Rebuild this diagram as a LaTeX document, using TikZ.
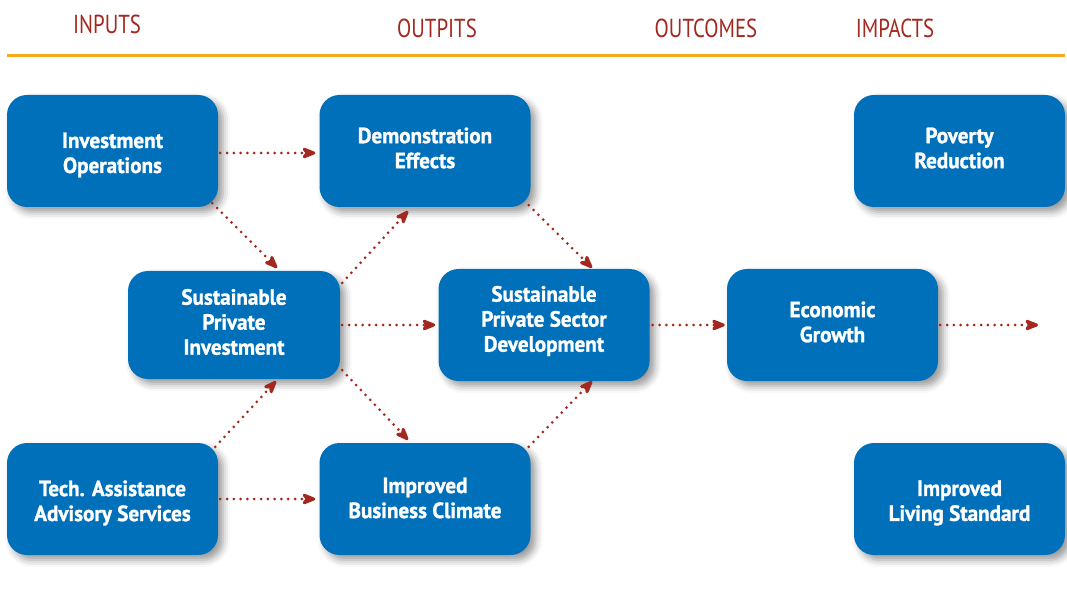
\documentclass[tikz,border=0pt]{standalone}
\usepackage{fontspec}
\setmainfont{PT Sans}
\newfontfamily\boxfont{PT Sans}[FakeStretch=0.96,FakeBold=1.2]
\newfontfamily\headfont{PT Sans}[FakeStretch=0.8]
\usetikzlibrary{arrows.meta,shadows.blur}
\definecolor{boxblue}{HTML}{0070BA}
\definecolor{arrowred}{HTML}{A3281F}
\definecolor{headred}{HTML}{A3281F}
\definecolor{lineorange}{HTML}{F7A81B}
\begin{document}
\begin{tikzpicture}[x=1pt,y=-1pt,
  box/.style={rounded corners=20pt, fill=boxblue, minimum width=211pt, minimum height=112pt,
    inner sep=0pt,
    blur shadow={shadow xshift=5pt, shadow yshift=-5pt, shadow blur radius=7pt, shadow opacity=40}},
  txt/.style={text=white, align=center, inner sep=0pt,
    font=\boxfont\bfseries\fontsize{22}{25}\selectfont},
  head/.style={text=headred, font=\headfont\fontsize{26}{30}\selectfont, inner sep=0pt},
  conn/.style={draw=arrowred, line width=3pt, dash pattern=on 0pt off 6.8pt, line cap=round,
    -{Stealth[length=18pt,width=14pt,inset=5.5pt,round=false]}}
]
\useasboundingbox (0,0) rectangle (1067,593);
\node[head] (hin) at (107,24) {INPUTS};
\node[head] (hout) at (437,28) {OUTPITS};
\node[head] (hoc) at (706,28) {OUTCOMES};
\node[head] (him) at (895,28) {IMPACTS};
\coordinate (la) at (7,56);
\coordinate (lb) at (1065,56);
\draw[lineorange, line width=3pt] (la) -- (lb);

\node[box] (io) at (112.5,151) {};
\node[box] (de) at (425,151) {};
\node[box] (pr) at (959.5,151) {};
\node[box, minimum height=108pt, minimum width=212pt] (spi) at (234,325) {};
\node[box] (spsd) at (544,325) {};
\node[box] (eg) at (832.5,325) {};
\node[box] (ta) at (112.5,499) {};
\node[box] (ibc) at (425,499) {};
\node[box] (ils) at (959.5,499) {};

\node[txt] (iot) at (112.5,155) {Investment\\Operations};
\node[txt] (det) at (425,148) {Demonstration\\Effects};
\node[txt] (prt) at (959.5,148) {Poverty\\Reduction};
\node[txt] (spit) at (234,322) {Sustainable\\Private\\Investment};
\node[txt] (spsdt) at (544,321) {Sustainable\\Private Sector\\Development};
\node[txt] (egt) at (832.5,322) {Economic\\Growth};
\node[txt] (tat) at (112.5,503) {Tech. Assistance\\Advisory Services};
\node[txt] (ibct) at (425,498) {Improved\\Business Climate};
\node[txt] (ilst) at (959.5,503) {Improved\\Living Standard};
\coordinate (out) at (1038,325);

\draw[conn] ([xshift=2pt,yshift=-2pt]io.east) -- ([xshift=-4pt,yshift=-2pt]de.west);
\draw[conn] ([xshift=-6pt,yshift=4pt]io.south east) -- ([xshift=43pt,yshift=3pt]spi.north);
\draw[conn] ([xshift=2pt,yshift=-12pt]spi.north east) -- ([xshift=-17pt,yshift=-4pt]de.south);
\draw[conn] ([xshift=-2pt,yshift=2pt]de.south east) -- ([xshift=48pt,yshift=1pt]spsd.north);
\draw[conn] ([xshift=2pt]spi.east) -- ([xshift=-3pt]spsd.west);
\draw[conn] ([xshift=3pt]spsd.east) -- ([xshift=-2pt]eg.west);
\draw[conn] ([xshift=2pt]eg.east) -- (out);
\draw[conn] ([xshift=2pt,yshift=9pt]spi.south east) -- ([xshift=-17pt,yshift=3pt]ibc.north);
\draw[conn] ([xshift=-3pt,yshift=-4pt]ta.north east) -- ([xshift=42pt,yshift=-2pt]spi.south);
\draw[conn] ([xshift=2pt]ta.east) -- ([xshift=-4pt]ibc.west);
\draw[conn] ([xshift=-2pt,yshift=-4pt]ibc.north east) -- ([xshift=48pt]spsd.south);
\end{tikzpicture}
\end{document}
